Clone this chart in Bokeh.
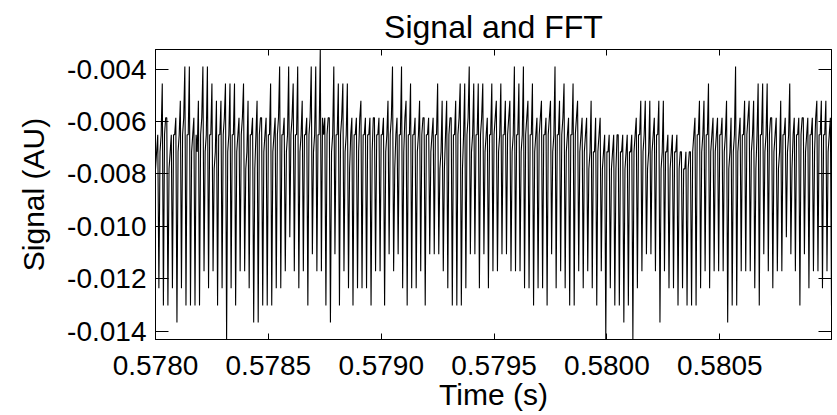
from bokeh.plotting import figure
from bokeh.models import LinearAxis, FixedTicker, NumeralTickFormatter, Range1d, CustomLabelingPolicy
from bokeh.embed import file_html
from bokeh.resources import INLINE

title_text = "Signal and FFT"
x_label = "Time (s)"
y_label = "Signal (AU)"

t_start = 0.5780          # s, first sample
sample_rate = 200000.0    # Hz
adc_step = 1.0 / 1536.0   # signal units per ADC count

x_ticks = [0.5780, 0.5785, 0.5790, 0.5795, 0.5800, 0.5805]
y_ticks = [-0.004, -0.006, -0.008, -0.010, -0.012, -0.014]

# ADC counts (signal = -count * adc_step), read per 4-sample cycle
mid1_counts = [
    12, 11, 10, 12, 10, 11, 10, 10, 11, 10, 10, 11, 10, 12, 10, 10, 11, 10, 11, 10, 12, 10,
    12, 10, 11, 10, 11, 10, 10, 11, 10, 10, 11, 10, 10, 11, 10, 9, 10, 11, 10, 10, 11,
    12, 10, 11, 10, 10, 11, 10, 10, 11, 10, 12, 10, 11, 10, 10, 11, 10, 10, 11, 10, 12,
    12, 10, 10, 10, 12, 10, 11, 10, 10, 11, 10, 10, 11, 10, 10, 11, 10, 11, 10, 10, 11,
    10, 10, 10, 11, 10, 10, 11, 10, 10, 11, 11, 12, 11, 11, 12, 11, 12, 12, 11, 12, 11,
    11, 10, 11, 12, 11, 10, 12, 11, 12, 11, 12, 12, 12, 11, 10, 11, 10, 11, 11, 10, 11, 12,
    11, 11, 10, 10, 11, 12, 10, 11, 10, 11, 12, 10, 11, 12, 10, 10, 11, 10, 11, 10, 10, 11,
]
mid2_counts = [
    11, 10, 9, 11, 10, 10, 9, 10, 10, 11, 9, 10, 10, 11, 10, 9, 10, 10, 10, 9, 11, 10,
    10, 9, 10, 10, 10, 9, 10, 10, 9, 10, 10, 10, 9, 10, 10, 10, 9, 10, 10, 9, 10,
    10, 10, 9, 10, 10, 9, 10, 10, 10, 9, 10, 10, 9, 10, 10, 10, 9, 10, 10, 10, 11,
    10, 9, 10, 9, 10, 9, 10, 10, 9, 10, 10, 9, 10, 10, 9, 10, 10, 10, 9, 10, 10,
    9, 10, 9, 10, 10, 9, 10, 10, 9, 10, 10, 11, 11, 10, 11, 11, 11, 10, 11, 11, 11,
    10, 10, 10, 11, 10, 10, 11, 11, 11, 11, 11, 12, 11, 10, 10, 10, 10, 10, 10, 10, 10, 11,
    10, 10, 10, 9, 10, 10, 10, 10, 9, 10, 11, 10, 10, 10, 10, 9, 10, 10, 9, 10, 10, 10,
]
peak_counts = [
    10, 7, 9, 10, 9, 8, 6, 6, 9, 8, 6, 6, 7, 8, 8, 7, 7, 7, 9, 7, 8, 9,
    8, 9, 9, 7, 9, 6, 9, 6, 7, 6, 8, 9, 6, 6, 5, 9, 9, 6, 7, 7, 7,
    9, 9, 8, 9, 9, 9, 9, 9, 8, 6, 9, 6, 8, 7, 9, 8, 9, 9, 9, 7, 8,
    8, 9, 8, 7, 7, 6, 7, 7, 7, 9, 7, 8, 7, 8, 8, 6, 7, 6, 8, 7, 9,
    8, 9, 8, 6, 8, 7, 9, 7, 8, 9, 9, 8, 9, 9, 10, 10, 10, 10, 10, 10, 10,
    9, 8, 8, 8, 9, 8, 8, 10, 10, 10, 11, 11, 11, 9, 8, 8, 7, 9, 9, 9, 8, 9,
    6, 9, 8, 8, 8, 7, 7, 7, 9, 9, 8, 9, 7, 9, 9, 9, 9, 9, 8, 8, 8, 9,
]
low_counts = [
    19, 20, 20, 19, 21, 19, 20, 20, 20, 20, 18, 19, 18, 20, 19, 22, 19, 20, 18, 18, 19, 21,
    21, 20, 20, 20, 19, 19, 18, 16, 18, 19, 18, 20, 17, 18, 18, 20, 21, 17, 20, 18, 19,
    20, 19, 19, 19, 20, 18, 18, 20, 17, 18, 17, 19, 20, 19, 19, 18, 20, 17, 17, 17, 18,
    19, 20, 20, 20, 19, 17, 17, 19, 17, 19, 18, 18, 17, 17, 18, 18, 18, 19, 19, 20, 19,
    19, 20, 17, 19, 18, 19, 20, 20, 18, 19, 18, 19, 20, 18, 22, 19, 20, 20, 21, 20, 22,
    19, 18, 17, 17, 18, 21, 18, 19, 19, 20, 19, 20, 20, 20, 19, 18, 19, 18, 18, 18, 21, 20,
    20, 18, 18, 18, 19, 20, 17, 18, 19, 18, 18, 16, 17, 18, 20, 17, 19, 18, 18, 19, 18, 20,
]

counts = []
for a, b, c, d in zip(mid1_counts, mid2_counts, peak_counts, low_counts):
    counts.extend([a, b, c, d])
signal = [-c * adc_step for c in counts]
time = [t_start + i / sample_rate for i in range(len(counts))]

FONT = "Liberation Sans"
TICK_FS = "28px"
LABEL_FS = "30px"

p = figure(width=837, height=415, output_backend="svg", toolbar_location=None,
           x_range=Range1d(time[0], time[-1]),
           y_range=Range1d(min(signal), max(signal)),
           min_border_left=155, min_border_right=6,
           min_border_top=49, min_border_bottom=76)
p.background_fill_color = "white"
p.border_fill_color = "white"
p.outline_line_color = "black"
p.outline_line_width = 1
p.xgrid.grid_line_color = None
p.ygrid.grid_line_color = None

p.line(time, signal, line_color="black", line_width=1.1)

p.title.text = title_text
p.title.align = "center"
p.title.offset = -8
p.title.text_font = FONT
p.title.text_font_size = "32px"
p.title.text_font_style = "normal"
p.title.text_color = "black"

no_labels = CustomLabelingPolicy(code="""
for (let i = 0; i < indices.size; i++) { indices.unset(i) }
return indices
""")

def style_axis(ax, tick_len, show_labels):
    ax.axis_line_color = "black"
    ax.major_tick_line_color = "black"
    ax.major_tick_in = tick_len
    ax.major_tick_out = 0
    ax.minor_tick_line_color = None
    if show_labels:
        ax.major_label_text_font = FONT
        ax.major_label_text_font_size = TICK_FS
        ax.major_label_text_color = "black"
        ax.axis_label_text_font = FONT
        ax.axis_label_text_font_size = LABEL_FS
        ax.axis_label_text_font_style = "normal"
        ax.axis_label_text_color = "black"
    else:
        ax.major_label_policy = no_labels
        ax.major_label_text_font_size = "0px"
        ax.major_label_standoff = 0

xb = p.xaxis[0]
xb.ticker = FixedTicker(ticks=x_ticks)
xb.formatter = NumeralTickFormatter(format="0.0000")
xb.axis_label = x_label
style_axis(xb, 6, True)
xb.major_label_standoff = 16
xb.axis_label_standoff = 0

yl = p.yaxis[0]
yl.ticker = FixedTicker(ticks=y_ticks)
yl.formatter = NumeralTickFormatter(format="0.000")
yl.axis_label = y_label
style_axis(yl, 13, True)
yl.major_label_standoff = 9
yl.axis_label_standoff = 14

xt = LinearAxis(ticker=FixedTicker(ticks=x_ticks))
style_axis(xt, 6, False)
p.add_layout(xt, "above")

yr = LinearAxis(ticker=FixedTicker(ticks=y_ticks))
style_axis(yr, 13, False)
p.add_layout(yr, "right")

open("out.html", "w").write(file_html(p, INLINE))
